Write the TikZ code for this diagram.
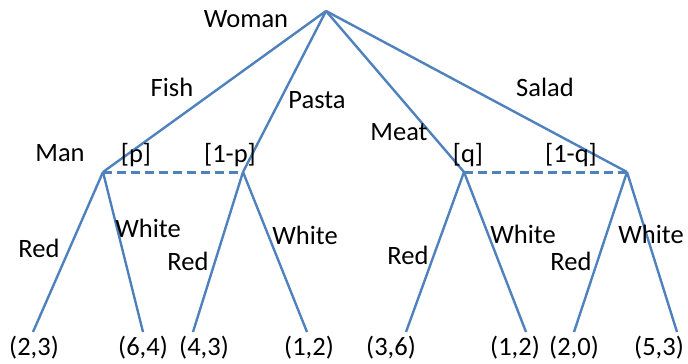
\documentclass[tikz,border=0pt]{standalone}
\usepackage{fontspec}
\setmainfont{Carlito}
\begin{document}
\begin{tikzpicture}[x=1pt,y=-1pt,
  edge/.style={draw=blueline,line width=2.4pt},
  infoset/.style={draw=blueline,line width=3pt,dash pattern=on 9pt off 5pt},
  lbl/.style={inner sep=0pt,font=\fontsize{26.5}{30}\selectfont}]
\definecolor{blueline}{RGB}{79,129,189}
\useasboundingbox (0,0) rectangle (688,364);
% decision points
\coordinate (r) at (326,11);
\coordinate (a) at (103,172);
\coordinate (b) at (243,172);
\coordinate (c) at (464,172);
\coordinate (d) at (627,172);
% leaf ends
\coordinate (l1) at (33,332);
\coordinate (l2) at (143,332);
\coordinate (l3) at (193,332);
\coordinate (l4) at (307,332);
\coordinate (l5) at (406,332);
\coordinate (l6) at (526,332);
\coordinate (l7) at (574,332);
\coordinate (l8) at (677,332);
% edges
\draw[edge] (r) -- (a);
\draw[edge] (r) -- (b);
\draw[edge] (r) -- (c);
\draw[edge] (r) -- (d);
\draw[edge] (a) -- (l1);
\draw[edge] (a) -- (l2);
\draw[edge] (b) -- (l3);
\draw[edge] (b) -- (l4);
\draw[edge] (c) -- (l5);
\draw[edge] (c) -- (l6);
\draw[edge] (d) -- (l7);
\draw[edge] (d) -- (l8);
\draw[infoset] (a) -- (b);
\draw[infoset] (c) -- (d);
% labels
\node[lbl] (tw) at (246,19) {Woman};
\node[lbl] (tf) at (172,87) {Fish};
\node[lbl] (tp) at (317,100) {Pasta};
\node[lbl] (tm) at (399,132) {Meat};
\node[lbl] (ts) at (545,87) {Salad};
\node[lbl] (tman) at (60,153) {Man};
\node[lbl] (tpp) at (136,155) {[p]};
\node[lbl] (t1p) at (230,155) {[1-p]};
\node[lbl] (tq) at (468,155) {[q]};
\node[lbl] (t1q) at (571,155) {[1-q]};
\node[lbl] (r1) at (39,248) {Red};
\node[lbl] (w1) at (148,228) {White};
\node[lbl] (r2) at (188,261) {Red};
\node[lbl] (w2) at (305,235) {White};
\node[lbl] (r3) at (408,255) {Red};
\node[lbl] (w3) at (523,234) {White};
\node[lbl] (r4) at (571,261) {Red};
\node[lbl] (w4) at (651,234) {White};
% payoffs
\node[lbl] (p1) at (34,348) {(2,3)};
\node[lbl] (p2) at (143,348) {(6,4)};
\node[lbl] (p3) at (204,348) {(4,3)};
\node[lbl] (p4) at (309,348) {(1,2)};
\node[lbl] (p5) at (391,348) {(3,6)};
\node[lbl] (p6) at (515,348) {(1,2)};
\node[lbl] (p7) at (574,348) {(2,0)};
\node[lbl] (p8) at (659,348) {(5,3)};
\end{tikzpicture}
\end{document}
